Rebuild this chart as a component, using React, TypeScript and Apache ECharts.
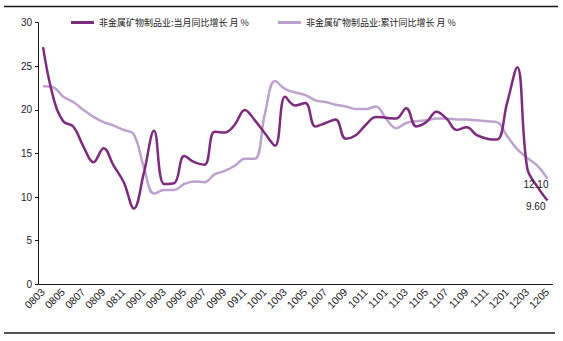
import React, { useEffect, useRef } from "react";
import * as echarts from "echarts";

const categories = [
  "0803", "0804", "0805", "0806", "0807", "0808", "0809", "0810", "0811", "0812",
  "0901", "0902", "0903", "0904", "0905", "0906", "0907", "0908", "0909", "0910", "0911", "0912",
  "1001", "1002", "1003", "1004", "1005", "1006", "1007", "1008", "1009", "1010", "1011", "1012",
  "1101", "1102", "1103", "1104", "1105", "1106", "1107", "1108", "1109", "1110", "1111", "1112",
  "1201", "1202", "1203", "1204", "1205",
];

const monthlyName = "非金属矿物制品业:当月同比增长 月 %";
const cumulativeName = "非金属矿物制品业:累计同比增长 月 %";

const monthlyValues = [
  27.2, 21.5, 18.7, 18.1, 15.8, 14.0, 15.6, 13.6, 11.7, 8.7,
  12.8, 17.6, 11.5, 11.6, 14.7, 14.0, 13.7, 17.5, 17.4, 18.3,
  20.0, 18.8, 17.3, 15.9, 21.5, 20.5, 20.8, 18.1, 18.5, 18.9,
  16.7, 17.1, 18.3, 19.2, 19.1, 19.0, 20.2, 18.1, 18.6, 19.8,
  19.0, 17.7, 18.0, 17.1, 16.7, 16.6, 20.8, 24.9, 13.3, 11.2,
  9.6,
];

const cumulativeValues = [
  22.7, 22.6, 21.5, 20.9, 20.0, 19.2, 18.6, 18.2, 17.7, 17.2,
  13.4, 10.4, 10.8, 10.8, 11.5, 11.8, 11.7, 12.6, 13.0, 13.6,
  14.4, 14.4, 19.6, 23.3, 22.4, 22.0, 21.7, 21.1, 20.9, 20.6,
  20.4, 20.1, 20.1, 20.4, 19.0, 17.9, 18.5, 18.7, 18.8, 19.0,
  19.0, 18.9, 18.9, 18.8, 18.7, 18.6, 17.0, 15.5, 14.5, 13.6,
  12.1,
];

const monthlyEndLabel = "9.60";
const cumulativeEndLabel = "12.10";

const darkColor = "#7E2B7F";
const lightColor = "#BDA2CF";

function withEndLabel(values: number[], text: string, offset: number[]) {
  return values.map((v, i) =>
    i === values.length - 1
      ? {
          value: v,
          label: {
            show: true,
            formatter: text,
            position: "inside",
            align: "right",
            verticalAlign: "middle",
            offset,
            color: "#1a1a1a",
            fontSize: 10,
            fontFamily: "Liberation Sans, Arial, sans-serif",
          },
        }
      : v
  );
}

export default function App() {
  const ref = useRef<HTMLDivElement>(null);

  useEffect(() => {
    if (!ref.current) return;
    const chart = echarts.init(ref.current, undefined, { renderer: "svg" });
    const legendText = {
      fontSize: 9,
      color: "#222",
      fontFamily: "Noto Sans CJK SC, sans-serif",
    };
    chart.setOption({
      animation: false,
      backgroundColor: "#ffffff",
      grid: {
        left: 38,
        right: 10.5,
        top: 22.7,
        bottom: 56.7,
        containLabel: false,
      },
      legend: [
        {
          data: [monthlyName],
          left: 66,
          top: 13,
          icon: "rect",
          itemWidth: 23,
          itemHeight: 3,
          itemGap: 5,
          textStyle: legendText,
        },
        {
          data: [cumulativeName],
          left: 273,
          top: 13,
          icon: "rect",
          itemWidth: 23,
          itemHeight: 3,
          itemGap: 5,
          textStyle: legendText,
        },
      ],
      xAxis: {
        type: "category",
        data: categories,
        boundaryGap: true,
        axisLine: { lineStyle: { color: "#1a1a1a", width: 1 } },
        axisTick: { interval: 1, inside: true, length: 3, lineStyle: { color: "#1a1a1a" } },
        axisLabel: {
          interval: 1,
          rotate: 45,
          hideOverlap: false,
          margin: 6,
          fontSize: 10.5,
          color: "#222",
          fontFamily: "Liberation Sans, Arial, sans-serif",
        },
        splitLine: { show: false },
      },
      yAxis: {
        type: "value",
        min: 0,
        max: 30,
        interval: 5,
        axisLine: { show: true, lineStyle: { color: "#1a1a1a", width: 1 } },
        axisTick: { show: true, length: 3, lineStyle: { color: "#1a1a1a" } },
        axisLabel: {
          margin: 6,
          fontSize: 10,
          color: "#222",
          fontFamily: "Liberation Sans, Arial, sans-serif",
        },
        splitLine: { show: false },
      },
      series: [
        {
          name: cumulativeName,
          type: "line",
          data: withEndLabel(cumulativeValues, cumulativeEndLabel, [1, 6]),
          smooth: 0.4,
          symbol: "circle",
          symbolSize: 0,
          showSymbol: true,
          showAllSymbol: true,
          itemStyle: { color: lightColor },
          lineStyle: { color: lightColor, width: 2.5 },
          label: { show: false },
        },
        {
          name: monthlyName,
          type: "line",
          data: withEndLabel(monthlyValues, monthlyEndLabel, [-2, 6]),
          smooth: 0.4,
          symbol: "circle",
          symbolSize: 0,
          showSymbol: true,
          showAllSymbol: true,
          itemStyle: { color: darkColor },
          lineStyle: { color: darkColor, width: 2.5 },
          label: { show: false },
        },
      ],
      graphic: [
        {
          type: "line",
          shape: { x1: 4, y1: 6.5, x2: 558, y2: 6.5 },
          style: { stroke: "#1a1a1a", lineWidth: 1.5 },
        },
        {
          type: "line",
          shape: { x1: 4, y1: 333, x2: 555, y2: 333 },
          style: { stroke: "#1a1a1a", lineWidth: 1.5 },
        },
      ],
    });
    return () => chart.dispose();
  }, []);

  return (
    <div
      ref={ref}
      style={{ position: "absolute", left: 0, top: 0, width: 563, height: 341 }}
    />
  );
}
